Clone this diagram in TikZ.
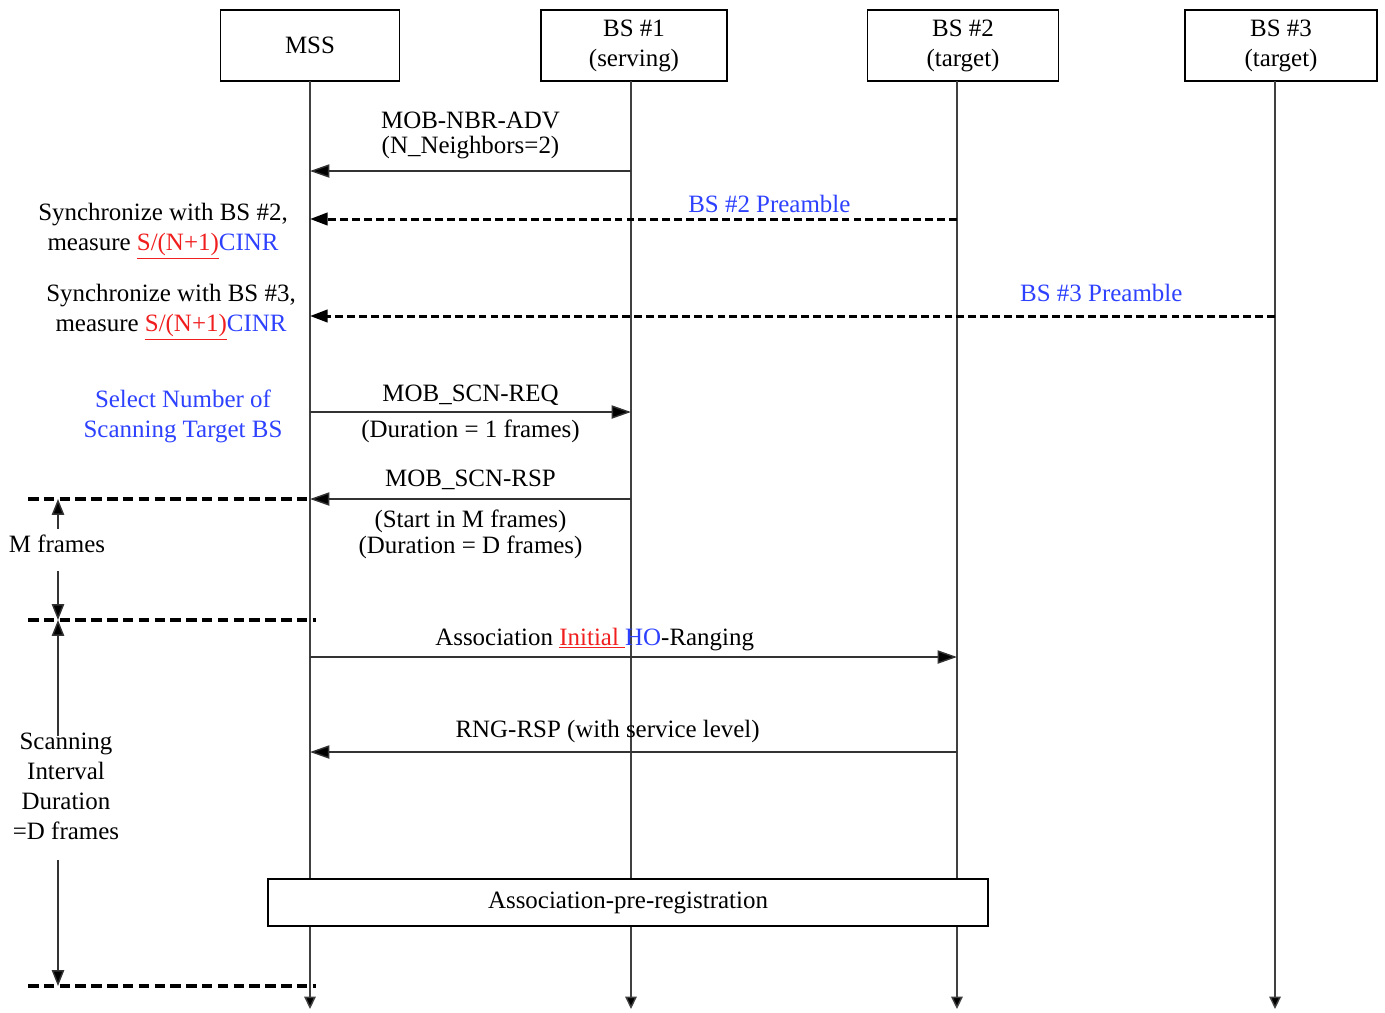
\documentclass[tikz,border=0pt]{standalone}
\usepackage{fontspec}
\setmainfont{Liberation Serif}
\usepackage{xcolor}
\usepackage{tikz}
\usetikzlibrary{arrows.meta}

\definecolor{bsblue}{RGB}{45,65,255}
\definecolor{hlred}{RGB}{240,30,30}

\begin{document}
\begin{tikzpicture}[
  x=0.02cm, y=-0.02cm,
  font=\fontsize{14.2}{17}\selectfont,
  entity/.style={draw, line width=1.1pt, minimum height=1.42cm, align=center, inner sep=2pt},
  lifeline/.style={draw=black!75, line width=0.8pt, -{Triangle[length=7pt,width=6.5pt,fill=black]}},
  msg/.style={draw=black!80, line width=0.8pt, -{Triangle[length=11pt,width=7.5pt,fill=black]}},
  preamb/.style={line width=1.7pt, dash pattern=on 4.5pt off 2.3pt, -{Triangle[length=10pt,width=7pt]}},
  frameline/.style={line width=1.9pt, dash pattern=on 6pt off 3pt},
  span/.style={draw=black!80, line width=0.8pt, -{Triangle[length=9pt,width=7pt,fill=black]}},
  tight/.style={font=\fontsize{14.2}{14.5}\selectfont, align=center}
]
\useasboundingbox (0,0) rectangle (1385,1012);

% entities
\node[entity, minimum width=3.58cm] (mss) at (310,45.5) {MSS};
\node[entity, minimum width=3.72cm] (bs1) at (634,45.5) {BS \#1\\(serving)};
\node[entity, minimum width=3.82cm] (bs2) at (963,45.5) {BS \#2\\(target)};
\node[entity, minimum width=3.84cm] (bs3) at (1281,45.5) {BS \#3\\(target)};

% lifelines
\coordinate (mssT) at (310,81);
\coordinate (bs1T) at (631,81);
\coordinate (bs2T) at (957,81);
\coordinate (bs3T) at (1275,81);
\coordinate (bot) at (0,1009);
\foreach \l in {mssT,bs1T,bs2T,bs3T}
  \draw[lifeline] (\l) -- (\l |- bot);

% message rows
\foreach \n/\y in {adv/171, pre2/219, pre3/316, req/412, rsp/499, rng/657, rrsp/752}
  \coordinate (\n) at (0,\y);

\draw[msg] (bs1T |- adv) -- (mssT |- adv)
  node[midway, above=3pt, tight] {MOB-NBR-ADV\\(N\_Neighbors=2)};
\draw[preamb] (bs2T |- pre2) -- (mssT |- pre2)
  node[pos=0.29, above, inner sep=3pt, text=bsblue] {BS \#2 Preamble};
\draw[preamb] (bs3T |- pre3) -- (mssT |- pre3)
  node[pos=0.18, above, inner sep=7pt, text=bsblue] {BS \#3 Preamble};
\draw[msg] (mssT |- req) -- (bs1T |- req)
  node[midway, above] {MOB\_SCN-REQ}
  node[midway, below, inner sep=4pt] {(Duration = 1 frames)};
\draw[msg] (bs1T |- rsp) -- (mssT |- rsp)
  node[midway, above, inner sep=5pt] {MOB\_SCN-RSP}
  node[midway, below, inner sep=6pt, tight] {(Start in M frames)\\(Duration = D frames)};
\draw[msg] (mssT |- rng) -- (bs2T |- rng)
  node[pos=0.44, above] {Association \textcolor{hlred}{\underline{Initial\ }}\textcolor{bsblue}{HO}-Ranging};
\draw[msg] (bs2T |- rrsp) -- (mssT |- rrsp)
  node[pos=0.54, above, inner sep=5pt] {RNG-RSP (with service level)};

\node[draw, line width=0.8pt, fill=white, minimum width=14.4cm, minimum height=0.94cm] (apr) at (628,902.5) {Association-pre-registration};

% notes on the MSS side
\node[align=center] (sync2) at (163,231) {Synchronize with BS \#2,\\measure \textcolor{hlred}{\underline{S/(N+1)}}\textcolor{bsblue}{CINR}};
\node[align=center] (sync3) at (171,312) {Synchronize with BS \#3,\\measure \textcolor{hlred}{\underline{S/(N+1)}}\textcolor{bsblue}{CINR}};
\node[align=center, text=bsblue] (sel) at (183,416) {Select Number of\\Scanning Target BS};

% frame marks
\coordinate (d1L) at (28,499);
\coordinate (d2L) at (28,620);
\coordinate (d2R) at (316,620);
\coordinate (d3L) at (28,986);
\coordinate (d3R) at (316,986);
\draw[frameline] (d1L) -- (mssT |- rsp);
\draw[frameline] (d2L) -- (d2R);
\draw[frameline] (d3L) -- (d3R);

\coordinate (sx) at (58,0);
\node (mfr) at (57,544) {M frames};
\node[align=center] (scn) at (66,786.5) {Scanning\\Interval\\Duration\\=D frames};
\draw[span] (sx |- mfr.north) -- (sx |- d1L);
\draw[span, shorten <=7pt] (sx |- mfr.south) -- (sx |- d2L);
\draw[span, shorten <=-5pt] (sx |- scn.north) -- (sx |- d2L);
\draw[span, shorten <=8pt] (sx |- scn.south) -- (sx |- d3L);
\end{tikzpicture}
\end{document}
